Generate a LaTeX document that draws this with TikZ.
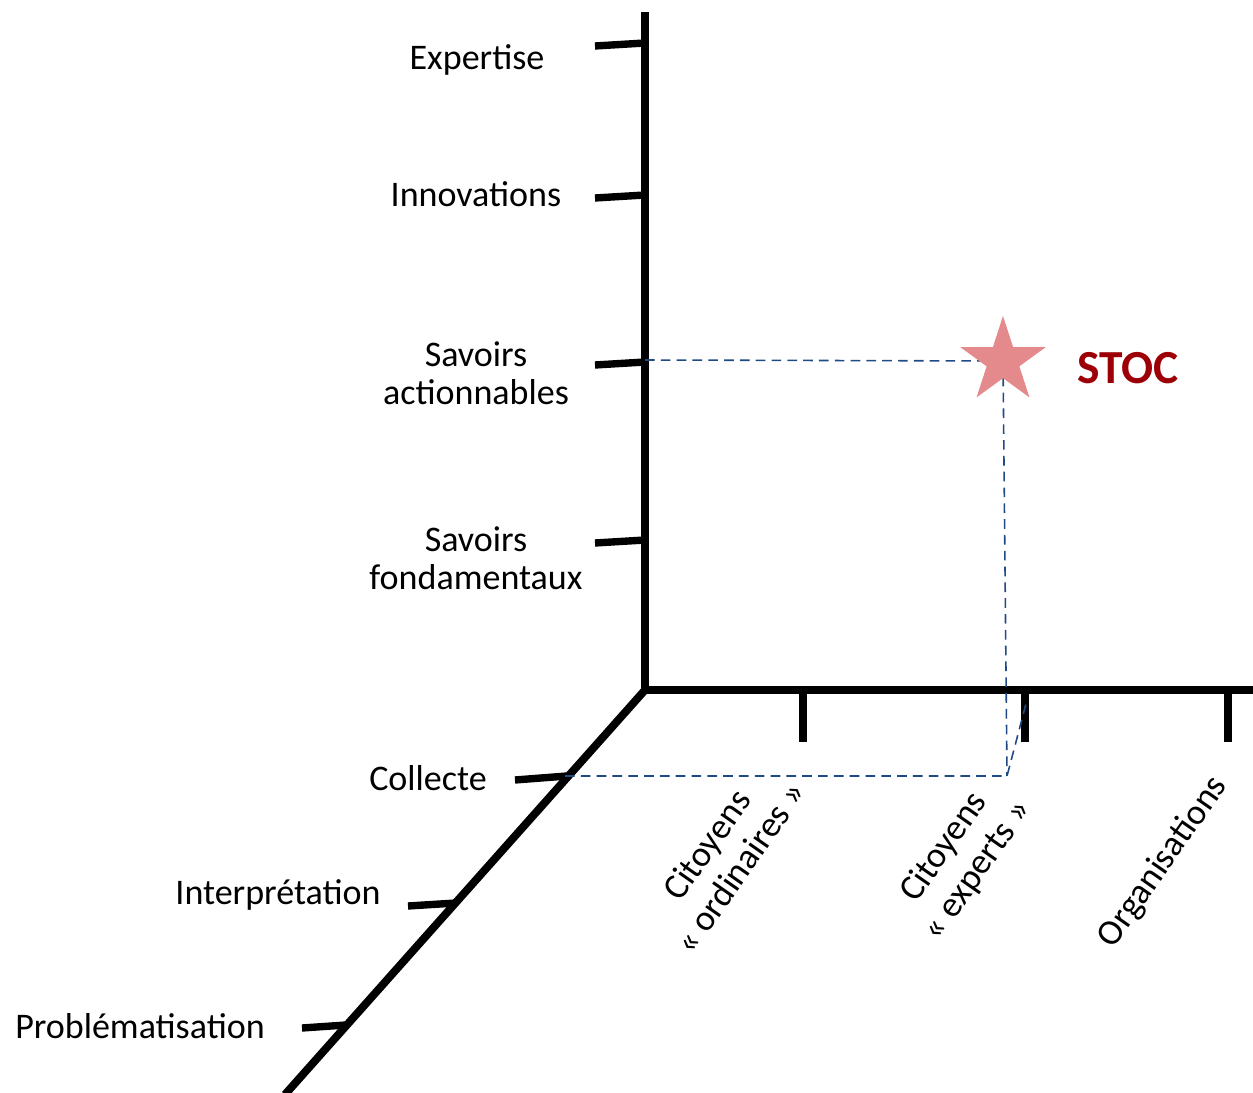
\documentclass[tikz,border=0pt]{standalone}
\usepackage{fontspec}
\setmainfont{Carlito}
\usepackage{tikz}
\usetikzlibrary{shapes.geometric}
\definecolor{bleutirets}{HTML}{1F4A86}
\definecolor{rose}{HTML}{E58A8C}
\definecolor{rougefonce}{HTML}{9C0006}

\tikzset{
  axe/.style={line width=4.5pt},
  graduation/.style={line width=4.2pt},
  projection/.style={bleutirets, line width=0.9pt, dash pattern=on 5.5pt off 3.5pt},
  etiquette/.style={font=\fontsize{20.5}{21.5}\selectfont, align=center, inner sep=0pt},
  oblique/.style={etiquette, font=\fontsize{20.5}{23}\selectfont, rotate=55}
}

\begin{document}
\begin{tikzpicture}
    \useasboundingbox (0,0) rectangle (25.06,21.84);

    % Points de repère
    \coordinate (origine) at (12.90, 8.04);
    \coordinate (pointV) at (12.90, 14.64);
    \coordinate (pointD) at (11.30, 6.32);
    \coordinate (coin) at (20.14, 6.32);
    \coordinate (pointH) at (20.54, 7.84);

    % Axes
    \draw[axe] (12.90, 21.60) -- (origine) -- (25.10, 8.04);
    \draw[axe] (origine) -- (5.70, -0.05);

    % Graduations de l'axe vertical
    \draw[graduation] (11.90, 20.92) -- (12.90, 20.98);
    \draw[graduation] (11.90, 17.88) -- (12.90, 17.94);
    \draw[graduation] (11.90, 14.54) -- (12.90, 14.60);
    \draw[graduation] (11.90, 10.98) -- (12.90, 11.04);

    % Graduations de l'axe horizontal
    \draw[graduation] (16.06, 8.04) -- (16.06, 7.00);
    \draw[graduation] (20.50, 8.04) -- (20.50, 7.00);
    \draw[graduation] (24.56, 8.04) -- (24.56, 7.00);

    % Graduations de l'axe oblique
    \draw[graduation] (10.30, 6.24) -- (11.34, 6.32);
    \draw[graduation] (8.16, 3.72) -- (9.12, 3.78);
    \draw[graduation] (6.04, 1.28) -- (6.92, 1.34);

    % Etiquettes de l'axe vertical
    \node[etiquette] (expertise) at (9.54, 20.64) {Expertise};
    \node[etiquette] (innovations) at (9.52, 17.96) {Innovations};
    \node[etiquette] (actionnables) at (9.52, 14.38) {Savoirs\\actionnables};
    \node[etiquette] (fondamentaux) at (9.52, 10.68) {Savoirs\\fondamentaux};

    % Etiquettes de l'axe oblique
    \node[etiquette] (collecte) at (8.56, 6.28) {Collecte};
    \node[etiquette] (interpretation) at (5.56, 3.94) {Interprétation};
    \node[etiquette] (problematisation) at (2.80, 1.32) {Problématisation};

    % Etiquettes de l'axe horizontal
    \node[oblique] (ordinaires) at (14.46, 4.72) {Citoyens\\« ordinaires »};
    \node[oblique] (experts) at (19.22, 4.66) {Citoyens\\« experts »};
    \node[oblique] (organisations) at (23.26, 4.60) {Organisations};

    % Projections en tirets
    \coordinate (centre) at (20.06, 14.62);
    \draw[projection] (pointV) -- (centre);
    \draw[projection] (centre) -- (coin);
    \draw[projection] (pointD) -- (coin) -- (pointH);

    % Etoile STOC
    \node[star, star points=5, star point ratio=2.618, fill=rose, minimum size=1.8cm, inner sep=0pt] (etoile) at (centre) {};
    \node[font=\fontsize{27}{30}\selectfont\bfseries, text=rougefonce] (stoc) at (22.56, 14.48) {STOC};
\end{tikzpicture}
\end{document}
